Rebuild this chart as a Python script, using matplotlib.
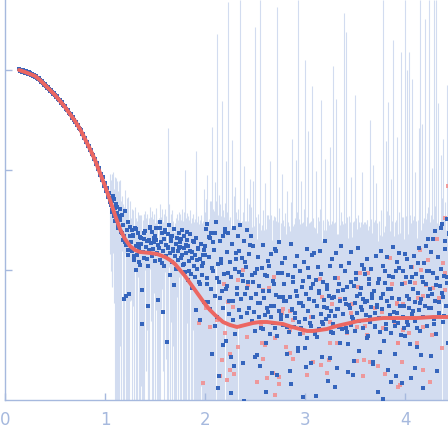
import numpy as np
import matplotlib.pyplot as plt

# scattering curve, log10 intensity (x100 for the point lists)
# low q: q = 0.14 .. 1.04, step 0.01
q_low = np.linspace(0.14, 1.04, 91)
logI_low = [1, -1, 0, -2, 0, -1, -3, -1, -2, -4,
            -2, -3, -5, -4, -6, -5, -7, -6, -8, -9,
            -8, -10, -12, -11, -13, -15, -14, -16, -18, -17,
            -19, -21, -20, -22, -24, -23, -25, -27, -26, -29,
            -30, -30, -33, -32, -35, -36, -36, -39, -40, -40,
            -43, -44, -44, -48, -47, -50, -52, -52, -55, -55,
            -58, -59, -60, -64, -64, -68, -68, -72, -72, -76,
            -76, -80, -80, -84, -85, -89, -89, -94, -93, -99,
            -98, -105, -104, -110, -107, -116, -113, -121, -118, -127,
            -123]

# mid q: q = 1.05 .. 1.994, step 0.008
q_mid = 1.05 + 0.008 * np.arange(119)
logI_mid = [-128, -135, -131, -140, -126, -146, -138, -150, -134, -143, -155, -147, -139,
            -150, -162, -145, -170, -229, -166, -141, -175, -160, -152, -185, -224, -157,
            -172, -160, -181, -166, -190, -158, -176, -200, -185, -163, -178, -195, -167, -174, -220,
            -182, -169, -188, -161, -177, -171, -196, -236, -180, -158, -173, -186, -162, -179, -168, -191,
            -170, -158, -184, -230, -178, -152, -190, -172, -163, -181, -169, -196, -160, -175, -272,
            -164, -178, -155, -183, -171, -192, -166, -179, -215, -186, -174, -199, -168, -181, -163, -177,
            -172, -188, -160, -195, -178, -166, -202, -183, -170, -210, -176, -191, -164, -204, -182,
            -218, -171, -196, -185, -240, -168, -199, -178, -212, -189, -250, -174, -205, -193, -232, -180]
# errors (x1e-4, linear units)
err_mid = [380, 350, 420, 330, 400, 300, 440, 360, 380, 410, 340, 430, 390,
           220, 250, 200, 260, 230, 210, 240, 200, 270, 230, 210, 240, 220,
           140, 160, 150, 175, 130, 165, 155, 145, 170, 150, 185, 160, 140, 175, 150,
           165, 155, 180, 145, 160, 170, 150, 140, 175, 160, 155, 185, 145, 165, 150, 170,
           160, 150, 175, 140, 165, 155, 180, 150, 170, 145, 160, 185, 155, 165, 140,
           2400, 160, 175, 150, 165, 155, 180, 145, 170, 160, 150, 175, 155, 165, 150, 170,
           170, 185, 160, 200, 175, 165, 900, 180, 170, 210, 175, 190, 165, 205, 180,
           220, 170, 195, 185, 1500, 175, 200, 180, 215, 190, 230, 175, 205, 195, 600, 180]

# extra mid-q points in between: q = 1.054 .. 1.982, step 0.016
q_mid2 = 1.054 + 0.016 * np.arange(59)
logI_mid2 = [-132, -142, -129, -151, -137, -158, -146,
             -163, -155, -172, -226, -180, -166,
             -178, -165, -186, -159, -174, -192, -168, -254, -163, -177, -189, -170, -157, -184, -172,
             -166, -183, -175, -158, -193, -242, -162, -186, -177, -205, -168, -181, -159, -174, -190, -178,
             -169, -185, -194, -175, -162, -201, -181, -188, -172, -207, -190, -179, -214, -196, -185]

# high q: q = 2.0 .. 4.44, step 0.008
q_high = 2.0 + 0.008 * np.arange(306)
logI_high = [-176, -159, -208, -154, -232, -187, -168, -219, -163, -284, -201, -180, -226, -163, -152, -247, -194, -212, -306, -171,
             -189, -221, -166, -238, -204, -159, -271, -182, -216, -163, -231, -192, -323, -207, -174, -250, -158, -199, -264, -183,
             -218, -166, -240, -202, -155, -229, -188, -211, -293, -171, -224, -197, -160, -243, -212, -184, -342, -166, -228, -205,
             -176, -242, -261, -203, -224, -285, -187, -247, -216, -233, -339, -198, -259, -175, -228, -245, -273, -206, -238, -191,
             -221, -264, -184, -247, -303, -211, -236, -258, -179, -225, -266, -203, -241, -172, -358, -249, -193, -227, -255, -214,
             -188, -231, -284, -246, -205, -262, -227, -174, -314, -239, -212, -257, -196, -243, -221, -186, -278, -252, -233, -201,
             -258, -217, -236, -327, -192, -249, -224, -179, -268, -241, -207, -253, -293, -218, -185, -247, -231, -264, -352, -210,
             -236, -197, -259, -223, -181, -244, -287, -212, -254, -230, -171, -249, -219, -238, -311, -226, -196, -262, -241, -189,
             -263, -227, -208, -246, -183, -298, -239, -214, -257, -231, -176, -259, -220, -244, -336, -201, -234, -262, -217, -274,
             -193, -238, -255, -182, -247, -305, -216, -233, -261, -209, -243, -178, -251, -281, -224, -237, -195, -258, -229, -363,
             -204, -245, -189, -231, -266, -214, -252, -237, -199, -228, -292, -221, -257, -243, -186, -235, -322, -209, -248, -262,
             -181, -239, -224, -196, -271, -213, -254, -187, -231, -300, -206, -245, -219, -263, -228, -177, -242, -256, -284, -201,
             -192, -253, -229, -183, -236, -341, -214, -247, -201, -258, -266, -207, -226, -189, -255, -238, -212, -308, -197, -244,
             -219, -186, -251, -232, -204, -277, -223, -240, -178, -261, -229, -207, -247, -318, -193, -236, -214, -256, -201, -169,
             -238, -219, -182, -286, -224, -203, -249, -161, -231, -264, -208, -187, -243, -344, -216, -199, -154, -252, -227, -206,
             -171, -236, -149, -213, -273, -163]
err_high = [210, 260, 180, 600, 240, 190, 280, 220, 250, 2700, 310, 230, 700, 270, 190, 23000, 240, 200, 550, 260,
            220, 4800, 180, 300, 250, 210, 1200, 230, 190, 48000, 270, 220, 250, 180, 1800, 240, 290, 200, 650, 230,
            260, 190, 280, 210, 50000, 240, 180, 300, 220, 900, 250, 200, 270, 190, 230, 310, 800, 210, 260, 180,
            600, 240, 200, 27000, 280, 190, 230, 260, 210, 50000, 250, 180, 290, 220, 200, 700, 240, 270, 190, 230,
            260, 1200, 210, 280, 190, 240, 300, 220, 180, 250, 43000, 210, 270, 230, 190, 260, 800, 220, 290, 200,
            240, 180, 600, 270, 210, 250, 190, 300, 230, 2000, 200, 260, 220, 180, 1200, 240, 50000, 210, 280, 190,
            750, 230, 260, 200, 290, 12500, 220, 180, 250, 2400, 210, 270, 190, 240, 6800, 300, 220, 200, 260, 900,
            190, 230, 280, 210, 250, 5000, 180, 240, 270, 200, 1100, 220, 260, 190, 300, 230, 1600, 210, 250, 180,
            11000, 240, 200, 270, 5000, 220, 190, 260, 650, 230, 210, 280, 180, 250, 37000, 200, 24000, 240, 270, 190,
            230, 260, 210, 700, 180, 290, 240, 200, 5600, 250, 220, 190, 270, 230, 210, 260, 850, 180, 240, 300,
            210, 250, 190, 270, 230, 200, 3100, 260, 220, 180, 1100, 240, 290, 210, 600, 250, 190, 230, 270, 200,
            240, 180, 50000, 260, 220, 200, 1900, 250, 190, 4800, 270, 210, 750, 230, 260, 20000, 180, 240, 290, 220,
            2000, 200, 250, 230, 190, 15000, 270, 210, 240, 180, 50000, 260, 10000, 220, 200, 15000, 280, 230, 190, 8000,
            250, 210, 270, 900, 220, 190, 260, 2600, 240, 50000, 200, 2800, 230, 290, 210, 32000, 250, 180, 270, 220,
            50000, 240, 200, 260, 1000, 230, 50000, 190, 270, 50000, 210, 4500, 250, 220, 180, 1300, 240, 260, 2000, 230,
            280, 210, 6800, 250, 200, 240]

# extra high-q points in between: q = 2.004 .. 4.436, step 0.016
q_high2 = 2.004 + 0.016 * np.arange(153)
logI_high2 = [-185, -214, -167, -239, -198, -172, -256, -208, -318, -228, -193, -275, -162, -219, -203, -244, -287, -231, -296, -189,
              -224, -181, -247, -205, -331, -192, -218, -238, -175, -251, -212, -287, -199, -233, -296, -258, -221, -205, -322, -242,
              -196, -236, -253, -214, -181, -305, -227, -245, -203, -231, -188, -257, -338, -301, -240, -207, -248, -226, -281, -264,
              -233, -211, -278, -297, -198, -229, -256, -214, -183, -326, -267, -221, -204, -252, -237, -334, -215, -246, -288, -228,
              -254, -317, -239, -221, -273, -196, -244, -229, -258, -302, -235, -212, -249, -291, -203, -226, -343, -218, -240, -199,
              -232, -268, -209, -247, -224, -294, -256, -237, -213, -282, -228, -329, -201, -259, -219, -236, -312, -207, -251, -306,
              -243, -198, -265, -313, -236, -184, -252, -229, -274, -207, -241, -298, -258, -193, -233, -285, -212, -336, -176, -226,
              -201, -238, -169, -254, -215, -301, -232, -158, -223, -246, -179, -207, -164]

# flagged points (pink)
q_pink = [2.38, 2.33, 2.43, 2.19, 2.23, 2.28, 2.01, 1.94, 2.05, 2.12, 2.20, 2.33, 2.25, 2.17, 2.25, 2.29, 2.15, 2.22, 1.98, 2.42,
          2.69, 2.58, 2.64, 2.78, 2.85, 2.77, 2.88, 3.06, 3.17, 3.15, 2.56, 2.85, 2.98, 2.57, 2.70, 2.60, 2.81, 2.85, 3.08, 2.58,
          2.62, 2.68, 2.74, 2.88, 2.52, 2.74, 2.70, 3.02, 3.16, 3.10,
          3.33, 3.55, 3.63, 3.85, 3.53, 3.35, 3.27, 3.47, 3.25, 3.46, 3.70, 3.77, 3.92, 3.60, 3.52, 3.62, 3.78, 3.42, 3.32, 3.25,
          3.24, 3.52, 3.59, 3.65, 3.73, 3.58, 3.80, 3.22, 3.93, 3.93,
          4.43, 4.40, 4.32, 4.15, 4.23, 4.07, 4.16, 4.38, 3.87, 4.00, 4.10, 4.21, 4.28, 4.40, 3.92, 3.98, 4.13, 4.18, 4.34, 4.40,
          3.90, 3.98, 4.04, 4.12, 4.18, 4.27, 4.37, 3.93, 3.97, 4.18, 4.25, 3.95]
logI_pink = [-2.00, -2.10, -2.15, -2.14, -2.32, -2.37, -2.38, -2.53, -2.57, -2.50, -2.63, -2.77, -2.84, -2.90, -3.00, -3.04, -3.06, -3.10, -3.13, -2.67,
             -2.07, -2.20, -2.18, -2.39, -2.41, -2.43, -2.50, -2.47, -2.27, -2.09, -2.55, -2.60, -2.63, -2.73, -2.68, -2.75, -2.77, -2.83, -2.92, -2.89,
             -3.08, -3.03, -3.07, -2.89, -3.12, -3.14, -3.25, -3.05, -2.95, -2.63,
             -2.08, -2.03, -2.03, -1.88, -2.17, -2.29, -2.34, -2.34, -2.52, -2.43, -2.38, -2.42, -2.33, -2.56, -2.57, -2.65, -2.58, -2.63, -2.73, -2.73,
             -2.90, -2.91, -2.90, -2.92, -2.96, -3.06, -3.04, -3.03, -2.73, -3.17,
             -1.16, -1.48, -1.69, -1.80, -1.90, -1.97, -2.00, -1.93, -2.14, -2.13, -2.13, -2.15, -2.18, -2.03, -2.34, -2.34, -2.28, -2.26, -2.28, -2.20,
             -2.53, -2.60, -2.63, -2.73, -2.57, -2.65, -2.78, -2.73, -2.92, -3.00, -3.12, -3.15]

# model fit
q_fit = [0.14, 0.20, 0.25, 0.30, 0.35, 0.40, 0.45, 0.50, 0.55, 0.60, 0.65, 0.70, 0.75, 0.80, 0.85, 0.90,
         0.95, 1.00, 1.05, 1.10, 1.15, 1.20, 1.25, 1.30, 1.35, 1.45, 1.52, 1.60, 1.65, 1.70, 1.75, 1.80,
         1.85, 1.90, 1.95, 2.00, 2.05, 2.10, 2.18, 2.25, 2.32, 2.40, 2.48, 2.55, 2.62, 2.70, 2.78, 2.87,
         2.95, 3.02, 3.08, 3.15, 3.22, 3.28, 3.36, 3.45, 3.53, 3.62, 3.70, 3.78, 3.95, 4.12, 4.28, 4.44]
logI_fit = [0.00, -0.02, -0.04, -0.06, -0.10, -0.15, -0.20, -0.25, -0.31, -0.37, -0.44, -0.51, -0.59, -0.69, -0.79, -0.90,
            -1.03, -1.16, -1.30, -1.45, -1.59, -1.69, -1.76, -1.80, -1.82, -1.83, -1.84, -1.87, -1.90, -1.94, -2.00, -2.06,
            -2.13, -2.20, -2.27, -2.34, -2.40, -2.45, -2.52, -2.55, -2.57, -2.55, -2.53, -2.52, -2.52, -2.53, -2.54, -2.57,
            -2.59, -2.61, -2.61, -2.60, -2.59, -2.57, -2.55, -2.53, -2.51, -2.50, -2.49, -2.48, -2.48, -2.48, -2.47, -2.47]

axis_col = '#a6b9de'
blue = '#3565bd'
pink = '#f28c8c'
red = '#ec6762'
bar_col = '#d2dcf0'

I_mid = 10.0 ** (np.array(logI_mid) / 100)
I_high = 10.0 ** (np.array(logI_high) / 100)
e_mid = np.array(err_mid) * 1e-4
e_high = np.array(err_high) * 1e-4

fig = plt.figure(figsize=(4.48, 4.38), dpi=100)
ax = fig.add_axes([5 / 448, 38 / 438, 443 / 448, 400 / 438])
ax.set_yscale('log')

# error bars (lower end clipped at the bottom of the axes)
q_err = np.concatenate([q_mid, q_high])
I_err = np.concatenate([I_mid, I_high])
s_err = np.concatenate([e_mid, e_high])
lo = np.clip(I_err - s_err, 1e-6, None)
ax.vlines(q_err, lo, I_err + s_err, color=bar_col, lw=0.8, zorder=1)

ax.plot(q_pink, 10.0 ** np.array(logI_pink), 's', color=pink, ms=2.6, mew=0, alpha=0.85, zorder=2)
for qq, ll in [(q_low, logI_low), (q_mid, logI_mid), (q_mid2, logI_mid2),
               (q_high, logI_high), (q_high2, logI_high2)]:
    ax.plot(qq, 10.0 ** (np.array(ll) / 100), 's', color=blue, ms=2.9, mew=0, zorder=3)
ax.plot(q_fit, 10.0 ** np.array(logI_fit), '-', color=red, lw=2.8, solid_capstyle='round', zorder=4)

ax.set_xlim(0, 4.43)
ax.set_ylim(10 ** -3.3, 10 ** 0.7)

for s in ['top', 'right']:
    ax.spines[s].set_visible(False)
for s in ['left', 'bottom']:
    ax.spines[s].set_color(axis_col)
    ax.spines[s].set_linewidth(1.0)

ax.set_xticks([0, 1, 2, 3, 4])
ax.set_yticks([1, 0.1, 0.01])
ax.yaxis.set_minor_locator(plt.NullLocator())
ax.set_yticklabels([])
ax.tick_params(axis='both', direction='in', length=5, width=1, color=axis_col)
ax.tick_params(axis='x', labelsize=12, labelcolor=axis_col, pad=8)

fig.savefig('out.png', dpi=100)
